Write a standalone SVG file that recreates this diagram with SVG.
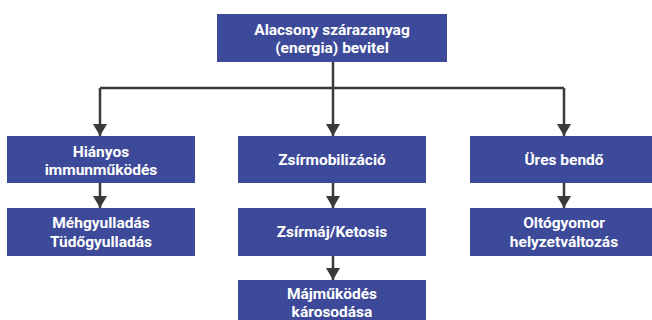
<svg xmlns="http://www.w3.org/2000/svg" width="652" height="320" viewBox="0 0 652 320">
<defs>
<style>
.box{fill:#3d4a99}
.t{font-family:Roboto,"Liberation Sans",sans-serif;font-weight:bold;font-size:15.5px;fill:#fff;text-anchor:middle}
.ln{stroke:#3a3a3a;stroke-width:2.5;fill:none}
</style>
<marker id="ah" viewBox="0 0 12 14" refX="12" refY="7" markerWidth="12" markerHeight="14" markerUnits="userSpaceOnUse" orient="auto">
<path d="M0,0 L12,7 L0,14 Z" fill="#3a3a3a"/>
</marker>
</defs>
<rect width="652" height="320" fill="#fff"/>
<g id="connectors">
<path class="ln" d="M333,62 V88"/>
<path class="ln" d="M100,88 H564"/>
<path class="ln" d="M100,88 V136" marker-end="url(#ah)"/>
<path class="ln" d="M333,88 V136" marker-end="url(#ah)"/>
<path class="ln" d="M564,88 V136" marker-end="url(#ah)"/>
<path class="ln" d="M100,183 V208" marker-end="url(#ah)"/>
<path class="ln" d="M333,183 V208" marker-end="url(#ah)"/>
<path class="ln" d="M564,183 V208" marker-end="url(#ah)"/>
<path class="ln" d="M333,256 V280" marker-end="url(#ah)"/>
</g>
<g id="top"><rect class="box" x="217" y="14" width="230" height="48"/><text class="t" x="332" y="35">Alacsony szárazanyag</text><text class="t" x="332" y="53">(energia) bevitel</text></g>
<g id="immun"><rect class="box" x="7" y="136" width="188" height="47"/><text class="t" x="101" y="157">Hiányos</text><text class="t" x="101" y="175">immunműködés</text></g>
<g id="meh"><rect class="box" x="7" y="208" width="188" height="48"/><text class="t" x="101" y="228">Méhgyulladás</text><text class="t" x="101" y="247">Tüdőgyulladás</text></g>
<g id="zsirmob"><rect class="box" x="238" y="136" width="188" height="47"/><text class="t" x="332" y="165">Zsírmobilizáció</text></g>
<g id="zsirmaj"><rect class="box" x="238" y="208" width="188" height="48"/><text class="t" x="332" y="237">Zsírmáj/Ketosis</text></g>
<g id="maj"><rect class="box" x="238" y="280" width="188" height="45"/><text class="t" x="332" y="299">Májműködés</text><text class="t" x="332" y="317">károsodása</text></g>
<g id="ures"><rect class="box" x="470" y="136" width="188" height="47"/><text class="t" x="564" y="165">Üres bendő</text></g>
<g id="olto"><rect class="box" x="470" y="208" width="188" height="48"/><text class="t" x="564" y="228">Oltógyomor</text><text class="t" x="564" y="247">helyzetváltozás</text></g>
</svg>
